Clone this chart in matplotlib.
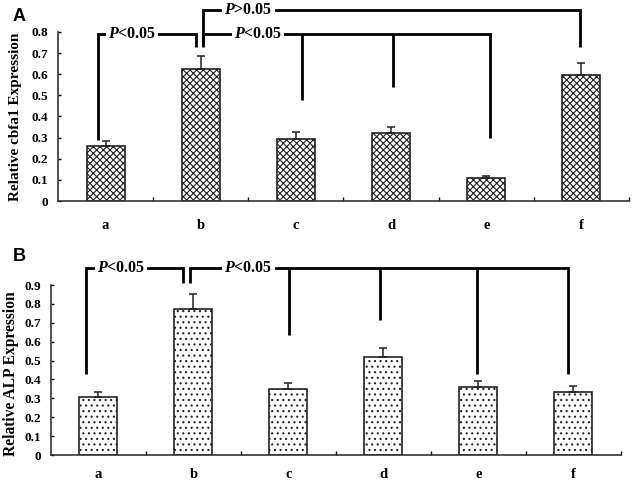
import matplotlib
matplotlib.use("Agg")
import matplotlib.pyplot as plt
import numpy as np

plt.rcParams['font.family'] = 'Liberation Serif'
plt.rcParams['hatch.linewidth'] = 0.8
plt.rcParams['mathtext.fontset'] = 'custom'
plt.rcParams['mathtext.it'] = 'Liberation Serif:italic:bold'

groups = ['a', 'b', 'c', 'd', 'e', 'f']
cbfa1_mean = [0.26, 0.625, 0.295, 0.32, 0.11, 0.595]
cbfa1_err = [0.025, 0.06, 0.03, 0.03, 0.01, 0.06]
alp_mean = [0.305, 0.775, 0.348, 0.517, 0.358, 0.332]
alp_err = [0.03, 0.075, 0.035, 0.048, 0.035, 0.035]


def bar_panel(ax, means, errs, hatch, ymax, ylabel, lab_size, xpad, lab_xy):
    x = np.arange(len(groups))
    ax.bar(x, means, width=0.4, color='white', edgecolor='#222222',
           linewidth=1.2, hatch=hatch, zorder=2)
    ax.errorbar(x, means, yerr=[np.zeros(len(errs)), errs], fmt='none',
                ecolor='#222222', elinewidth=1.1, capsize=3, capthick=1.1, zorder=3)
    ax.set_xlim(-0.5, len(groups) - 0.5)
    ax.set_ylim(0, ymax)
    yt = np.arange(0, ymax + 1e-9, 0.1)
    ax.set_yticks(yt)
    ax.set_yticklabels([('%g' % round(v, 1)) for v in yt],
                       fontweight='bold', fontsize=9.5)
    ax.set_xticks(x)
    ax.set_xticklabels(groups, fontweight='bold', fontsize=10.5)
    ax.set_xticks(np.arange(0.5, len(groups)), minor=True)
    ax.tick_params(axis='x', which='major', length=0, pad=xpad)
    ax.tick_params(axis='x', which='minor', direction='in', length=3, width=1)
    ax.tick_params(axis='y', direction='in', length=2.5, width=1, pad=7)
    for s in ['top', 'right']:
        ax.spines[s].set_visible(False)
    for s in ['left', 'bottom']:
        ax.spines[s].set_linewidth(1.2)
        ax.spines[s].set_color('#333333')
    ax.set_ylabel(ylabel, fontweight='bold', fontsize=lab_size)
    ax.yaxis.set_label_coords(*lab_xy)


def seg(ax, xs, ys):
    ax.plot(xs, ys, color='black', lw=2, clip_on=False, zorder=4,
            solid_capstyle='butt', solid_joinstyle='miter')


def ptext(ax, x, y, s):
    ax.text(x, y, s, ha='center', va='center', fontsize=11.5, fontweight='bold',
            clip_on=False, zorder=5,
            bbox=dict(facecolor='white', edgecolor='none', pad=1.5))


fig = plt.figure(figsize=(6.38, 4.84), dpi=100)

# Panel A
axA = fig.add_axes([0.0909, 0.5847, 0.8950, 0.3492])
bar_panel(axA, cbfa1_mean, cbfa1_err, 'xxxxx', 0.8, 'Relative cbfa1 Expression',
          11, 13, (-0.063, 0.5))
# a vs b
seg(axA, [-0.08, -0.08, 0.95, 0.95], [0.29, 0.79, 0.79, 0.73])
ptext(axA, 0.28, 0.79, r'$P$<0.05')
# b vs c, d, e
seg(axA, [1.02, 1.02, 4.04, 4.04], [0.73, 0.79, 0.79, 0.30])
seg(axA, [2.06, 2.06], [0.79, 0.48])
seg(axA, [3.02, 3.02], [0.79, 0.54])
ptext(axA, 1.6, 0.79, r'$P$<0.05')
# b vs f
seg(axA, [1.02, 1.02, 4.98, 4.98], [0.74, 0.905, 0.905, 0.73])
ptext(axA, 1.5, 0.905, r'$P$>0.05')
fig.text(0.02, 0.966, 'A', fontsize=13, fontweight='bold',
         family='Liberation Sans', va='center')

# Panel B
axB = fig.add_axes([0.0799, 0.0599, 0.8934, 0.3512])
bar_panel(axB, alp_mean, alp_err, '...', 0.9, 'Relative ALP Expression',
          11.2, 9, (-0.056, 0.48))
# a vs b
seg(axB, [-0.13, -0.13, 0.89, 0.89], [0.43, 0.99, 0.99, 0.91])
ptext(axB, 0.24, 0.99, r'$P$<0.05')
# b vs c, d, e, f
seg(axB, [0.96, 0.96, 4.94, 4.94], [0.91, 0.99, 0.99, 0.43])
seg(axB, [2.01, 2.01], [0.99, 0.635])
seg(axB, [2.96, 2.96], [0.99, 0.715])
seg(axB, [3.98, 3.98], [0.99, 0.43])
ptext(axB, 1.58, 0.99, r'$P$<0.05')
fig.text(0.02, 0.471, 'B', fontsize=13, fontweight='bold',
         family='Liberation Sans', va='center')

fig.savefig('out.png', dpi=100)
